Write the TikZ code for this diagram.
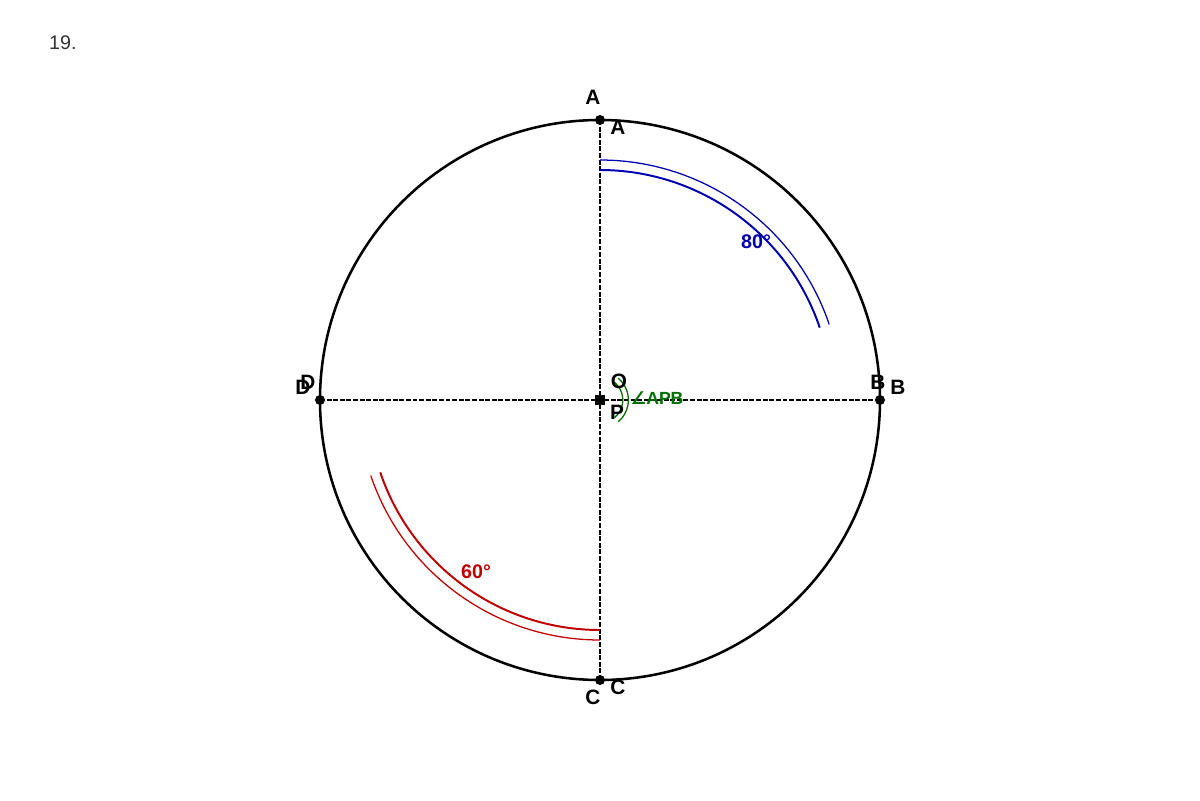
\documentclass[tikz,border=0pt]{standalone}
\usepackage{fontspec}
\setmainfont{Liberation Sans}
\newfontfamily\symfont{DejaVu Sans}
\usetikzlibrary{calc}

\definecolor{arcblue}{RGB}{0,0,175}
\definecolor{arcred}{RGB}{190,0,0}
\definecolor{anggreen}{RGB}{0,110,0}

\begin{document}
\begin{tikzpicture}
\tikzstyle{pt}=[circle,fill,inner sep=0pt,minimum size=0.25cm]
\tikzstyle{lbl}=[inner sep=0pt,font=\fontsize{14.8}{17}\bfseries\selectfont]
\tikzstyle{axis}=[line width=0.9pt,dash pattern=on 3.5pt off 1.2pt]
\tikzstyle{bigarc}=[line width=1.4pt]
\tikzstyle{smallarc}=[line width=0.9pt]
\useasboundingbox (-15,-10) rectangle (15,10);

% ========= circle and points
\node (title) at (-13.43,8.93) [font=\fontsize{14}{17}\selectfont,text=black!80] {19.};
\coordinate (O) at (0,0);
\draw [line width=1.8pt] (O) circle (7);
\node (A) [pt] at (0,7) {};
\node (B) [pt] at (7,0) {};
\node (C) [pt] at (0,-7) {};
\node (D) [pt] at (-7,0) {};
\node (P) [fill,inner sep=0pt,minimum size=0.25cm] at (O) {};

% ====== diameters
\draw [axis] (A.center) -- (C.center);
\draw [axis] (D.center) -- (B.center);

% ====== arcs
\draw [arcblue,bigarc] (0,5.75) arc (90:18.7:5.8);
\draw [arcblue,smallarc] (0,6) arc (90:18.7:6.05);
\draw [arcred,bigarc] (0,-5.75) arc (270:198.7:5.8);
\draw [arcred,smallarc] (0,-6) arc (270:198.7:6.05);
\draw [anggreen,smallarc] (50:0.57) arc (50:-50:0.57);
\draw [anggreen,smallarc] (50:0.71) arc (50:-50:0.71);

%% ===== labels
\node (lA1) [lbl] at (-0.175,7.575) {A};
\node (lA2) [lbl] at (0.45,6.825) {A};
\node (lB1) [lbl] at (6.95,0.45) {B};
\node (lB2) [lbl] at (7.45,0.325) {B};
\node (lC1) [lbl] at (-0.175,-7.425) {C};
\node (lC2) [lbl] at (0.45,-7.175) {C};
\node (lD1) [lbl] at (-7.3,0.45) {D};
\node (lD2) [lbl] at (-7.425,0.325) {D};
\node (lO) [lbl] at (0.475,0.475) {O};
\node (lP) [lbl] at (0.425,-0.3) {P};
\node (ang) [lbl,anggreen,font=\fontsize{12.5}{15}\bfseries\selectfont] at (1.425,0.05) {{\symfont ∠}APB};
\node (deg80) [lbl,arcblue,font=\fontsize{14}{17}\bfseries\selectfont] at (3.9,3.95) {80°};
\node (deg60) [lbl,arcred,font=\fontsize{14}{17}\bfseries\selectfont] at (-3.1,-4.3) {60°};
\end{tikzpicture}
\end{document}
